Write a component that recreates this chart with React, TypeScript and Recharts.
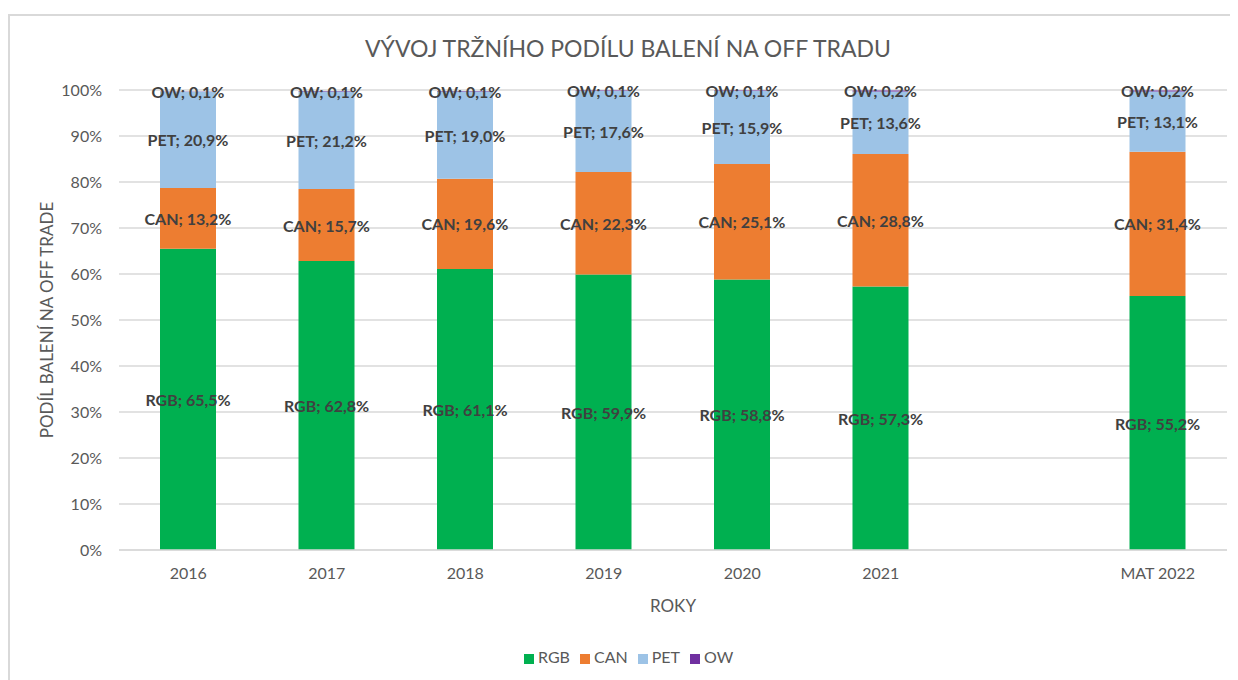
import { BarChart, Bar, XAxis, YAxis, CartesianGrid, Legend, LabelList } from "recharts";

const categories = ["2016", "2017", "2018", "2019", "2020", "2021", "", "MAT 2022"];
const rgb = [65.5, 62.8, 61.1, 59.9, 58.8, 57.3, null, 55.2];
const can = [13.2, 15.7, 19.6, 22.3, 25.1, 28.8, null, 31.4];
const pet = [20.9, 21.2, 19.0, 17.6, 15.9, 13.6, null, 13.1];
const ow = [0.1, 0.1, 0.1, 0.1, 0.1, 0.2, null, 0.2];
const yTicks = [0, 10, 20, 30, 40, 50, 60, 70, 80, 90, 100];

const data = categories.map((name, i) => ({
  name,
  RGB: rgb[i],
  CAN: can[i],
  PET: pet[i],
  OW: ow[i],
}));

const FONT = "Lato, 'Open Sans', sans-serif";
const GRAY = "#595959";
const GRID = "#d9d9d9";

const series = [
  { key: "RGB", color: "#00b050" },
  { key: "CAN", color: "#ed7d31" },
  { key: "PET", color: "#9dc3e6" },
  { key: "OW", color: "#7030a0" },
];

// data label drawn on one line, centred on the segment
const segLabel = (prefix: string) => (props: any) => {
  const { x, y, width, height, value } = props;
  if (value == null) return null;
  return (
    <text
      x={Number(x) + Number(width) / 2}
      y={Number(y) + Number(height) / 2}
      textAnchor="middle"
      dominantBaseline="central"
      fontSize={16}
      fontWeight={700}
      fill="#404040"
      fontFamily={FONT}
    >
      {`${prefix}; ${Number(value).toFixed(1).replace(".", ",")}%`}
    </text>
  );
};

export default function App() {
  return (
    <div style={{ position: "relative", width: 1230, height: 672, overflow: "hidden", fontFamily: FONT }}>
      <div
        style={{
          position: "absolute",
          left: 0,
          top: 6,
          width: 1260,
          height: 700,
          border: `2px solid ${GRID}`,
          boxSizing: "border-box",
        }}
      />
      <div
        style={{
          position: "absolute",
          left: 0,
          width: 1240,
          top: 24,
          textAlign: "center",
          fontSize: 23,
          color: GRAY,
          lineHeight: "32px",
        }}
      >
        VÝVOJ TRŽNÍHO PODÍLU BALENÍ NA OFF TRADU
      </div>
      <div style={{ position: "absolute", left: 0, top: 0 }}>
        <BarChart
          width={1230}
          height={672}
          data={data}
          margin={{ top: 82, right: 11, left: 0, bottom: 14 }}
          barSize={56}
        >
          <CartesianGrid vertical={false} stroke={GRID} strokeWidth={1.5} />
          <XAxis
            dataKey="name"
            axisLine={{ stroke: GRID, strokeWidth: 1.5 }}
            tickLine={false}
            tickMargin={12}
            height={97}
            tick={{ fontSize: 16, fill: GRAY, fontFamily: FONT }}
            label={{ value: "ROKY", position: "insideTop", offset: 50, fontSize: 17, fill: GRAY, fontFamily: FONT }}
          />
          <YAxis
            domain={[0, 100]}
            ticks={yTicks}
            allowDataOverflow
            width={111}
            axisLine={false}
            tickLine={false}
            tickMargin={11}
            tickFormatter={(v) => `${v}%`}
            tick={{ fontSize: 16, fill: GRAY, fontFamily: FONT }}
            label={{
              value: "PODÍL BALENÍ NA OFF TRADE",
              angle: -90,
              position: "center",
              dx: -17,
              fontSize: 17,
              fill: GRAY,
              fontFamily: FONT,
            }}
          />
          <Legend
            verticalAlign="bottom"
            align="left"
            iconType="square"
            iconSize={10}
            itemSorter={null}
            wrapperStyle={{ left: 516 }}
            formatter={(value) => <span style={{ color: GRAY, fontSize: 16, fontFamily: FONT }}>{value}</span>}
          />
          {series.map((s) => (
            <Bar key={s.key} dataKey={s.key} stackId="a" fill={s.color} isAnimationActive={false}>
              <LabelList dataKey={s.key} content={segLabel(s.key)} />
            </Bar>
          ))}
        </BarChart>
      </div>
    </div>
  );
}
